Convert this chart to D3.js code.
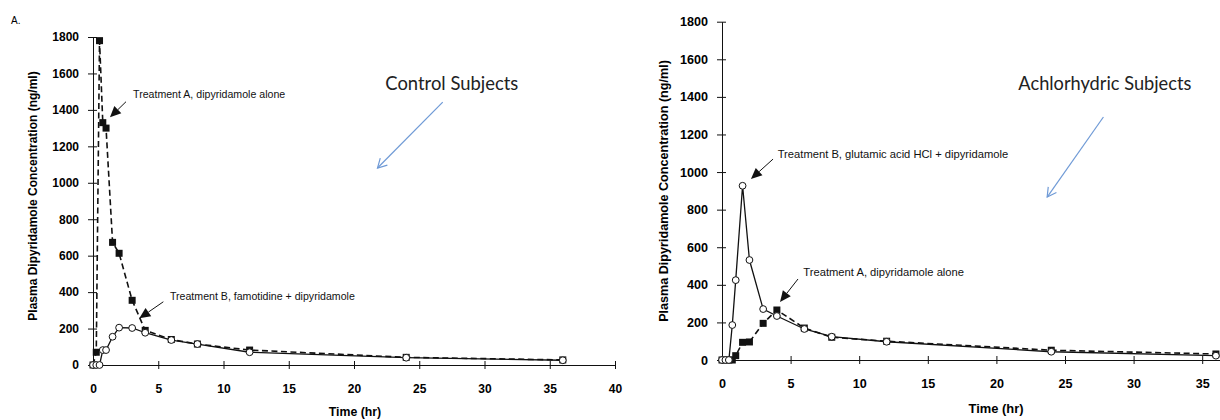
<!DOCTYPE html>
<html><head><meta charset="utf-8">
<script src="https://cdn.jsdelivr.net/npm/d3@7"></script>
<style>body{margin:0;background:#fff} svg{display:block}</style>
</head><body><svg id="c" width="1220" height="420"></svg>
<script>
// ---- data ----
const times = [0, 0.25, 0.5, 0.75, 1, 1.5, 2, 3, 4, 6, 8, 12, 24, 36];
const controlTreatmentA = [0, 70, 1780, 1330, 1300, 673, 613, 355, 190, 140, 115, 82, 42, 28];
const controlTreatmentB = [0, 0, 0, 82, 82, 155, 205, 203, 177, 137, 115, 70, 40, 26];
const achlorTreatmentA = [0, 0, 0, 0, 23, 94, 96, 195, 266, 170, 121, 100, 52, 32];
const achlorTreatmentB = [0, 0, 0, 186, 425, 927, 532, 271, 234, 165, 124, 97, 44, 23];
const xTicks = [0, 5, 10, 15, 20, 25, 30, 35, 40];
const yTicks = [0, 200, 400, 600, 800, 1000, 1200, 1400, 1600, 1800];
const yTitle = "Plasma Dipyridamole Concentration (ng/ml)";
const xTitle = "Time (hr)";
// annotations in data units: [text, textT, textV, fromT, fromV, tipT, tipV]
const controlNotes = [
  ["Treatment A, dipyridamole alone", 3.07, 1487, 2.53, 1445, 1.3, 1359],
  ["Treatment B, famotidine + dipyridamole", 5.9, 380, 5.39, 347, 3.55, 256]
];
const achlorNotes = [
  ["Treatment B, glutamic acid HCl + dipyridamole", 4.06, 1096, 3.72, 1069, 2.11, 963],
  ["Treatment A, dipyridamole alone", 5.93, 470, 5.54, 431, 4.23, 309]
];
// group label: [text, t, v, arrowFromT, arrowFromV, arrowToT, arrowToV]
const controlGroup = ["Control Subjects", 22.4, 1548, 26.8, 1443, 21.8, 1081];
const achlorGroup = ["Achlorhydric Subjects", 21.6, 1474, 27.8, 1293, 23.7, 867];

// ---- layout ----
const panels = [
  {x0: 93, x1: 615, yb: 365, yt: 37, fs: 12, afs: 10.6, seriesA: controlTreatmentA, seriesB: controlTreatmentB,
   notes: controlNotes, group: controlGroup, ytx: 33, ytc: 196, xtx: 355, xty: 416, gw: 133},
  {x0: 722, x1: 1270.8, yb: 360, yt: 21.7, fs: 12.6, afs: 11.2, seriesA: achlorTreatmentA, seriesB: achlorTreatmentB,
   notes: achlorNotes, group: achlorGroup, ytx: 664, ytc: 191, xty: 413, xtx: 996, gw: 173}
];

const svg = d3.select("#c");
svg.append("text").attr("x", 11).attr("y", 24).attr("font-family", "Liberation Sans, Arial, sans-serif")
  .attr("font-size", 10).text("A.");

function arrowHead(g, x1, y1, x2, y2, len, hw, filled, color) {
  const dx = x2 - x1, dy = y2 - y1, L = Math.hypot(dx, dy);
  const ux = dx / L, uy = dy / L, px = -uy, py = ux;
  const bx = x2 - ux * len, by = y2 - uy * len;
  const pts = [[bx + px * hw, by + py * hw], [x2, y2], [bx - px * hw, by - py * hw]];
  if (filled) {
    g.append("line").attr("x1", x1).attr("y1", y1).attr("x2", bx).attr("y2", by)
      .attr("stroke", color).attr("stroke-width", 1);
    g.append("polygon").attr("points", pts.map(p => p.join(",")).join(" ")).attr("fill", color);
  } else {
    g.append("line").attr("x1", x1).attr("y1", y1).attr("x2", x2).attr("y2", y2)
      .attr("stroke", color).attr("stroke-width", 1.2);
    g.append("polyline").attr("points", pts.map(p => p.join(",")).join(" "))
      .attr("fill", "none").attr("stroke", color).attr("stroke-width", 1.2);
  }
}

panels.forEach(p => {
  const x = d3.scaleLinear().domain([0, 40]).range([p.x0, p.x1]);
  const y = d3.scaleLinear().domain([0, 1800]).range([p.yb, p.yt]);
  const g = svg.append("g");
  const font = "Liberation Sans, Arial, Helvetica, sans-serif";

  // axes
  const ax = g.append("g").attr("transform", `translate(0,${p.yb})`)
    .call(d3.axisBottom(x).tickValues(xTicks.filter(t => x(t) < 1212)).tickFormat(d3.format("d"))
      .tickSize(4).tickSizeOuter(0));
  ax.selectAll(".tick line").attr("y1", -4);
  ax.selectAll(".tick text").attr("y", 27.5).attr("dy", null).attr("font-size", p.fs)
    .attr("font-weight", "bold").attr("font-family", font);
  const ay = g.append("g").attr("transform", `translate(${p.x0},0)`)
    .call(d3.axisLeft(y).tickValues(yTicks).tickFormat(d3.format("d")).tickSize(5).tickPadding(9).tickSizeOuter(0));
  ay.selectAll(".tick line").attr("x1", 4);
  ay.selectAll(".tick text").attr("font-size", p.fs).attr("font-weight", "bold").attr("font-family", font);
  g.selectAll(".domain, .tick line").attr("stroke", "#111");

  // titles
  g.append("text").attr("transform", `translate(${p.ytx},${p.ytc}) rotate(-90)`)
    .attr("text-anchor", "middle").attr("dominant-baseline", "central")
    .attr("font-family", font).attr("font-weight", "bold").attr("font-size", p.fs).text(yTitle);
  g.append("text").attr("x", p.xtx).attr("y", p.xty).attr("text-anchor", "middle")
    .attr("font-family", font).attr("font-weight", "bold").attr("font-size", p.fs + 0.3).text(xTitle);

  // lines
  const line = d3.line().x((d, i) => x(times[i])).y(d => y(d));
  g.append("path").attr("d", line(p.seriesB)).attr("fill", "none").attr("stroke", "#111").attr("stroke-width", 1.3);
  g.append("path").attr("d", line(p.seriesA)).attr("fill", "none").attr("stroke", "#111")
    .attr("stroke-width", 1.6).attr("stroke-dasharray", "6,3.5");
  // markers
  const s = 7;
  g.selectAll(null).data(p.seriesA).join("rect")
    .attr("x", (d, i) => x(times[i]) - s / 2).attr("y", d => y(d) - s / 2)
    .attr("width", s).attr("height", s).attr("fill", "#111");
  g.selectAll(null).data(p.seriesB).join("circle")
    .attr("cx", (d, i) => x(times[i])).attr("cy", d => y(d)).attr("r", 3.4)
    .attr("fill", "#fff").attr("stroke", "#111").attr("stroke-width", 1);

  // annotations
  p.notes.forEach(n => {
    g.append("text").attr("x", x(n[1])).attr("y", y(n[2])).attr("dominant-baseline", "central")
      .attr("font-family", font).attr("font-size", p.afs).attr("fill", "#111").text(n[0]);
    arrowHead(g, x(n[3]), y(n[4]), x(n[5]), y(n[6]), 11, 5, true, "#111");
  });
  const gr = p.group;
  g.append("text").attr("x", x(gr[1])).attr("y", y(gr[2])).attr("dominant-baseline", "central")
    .attr("font-family", "Lato, 'Open Sans', sans-serif").attr("font-size", 18.5).attr("fill", "#222")
    .attr("textLength", p.gw).attr("lengthAdjust", "spacingAndGlyphs").text(gr[0]);
  arrowHead(g, x(gr[3]), y(gr[4]), x(gr[5]), y(gr[6]), 9, 5, false, "#6f9ad6");
});
</script></body></html>
